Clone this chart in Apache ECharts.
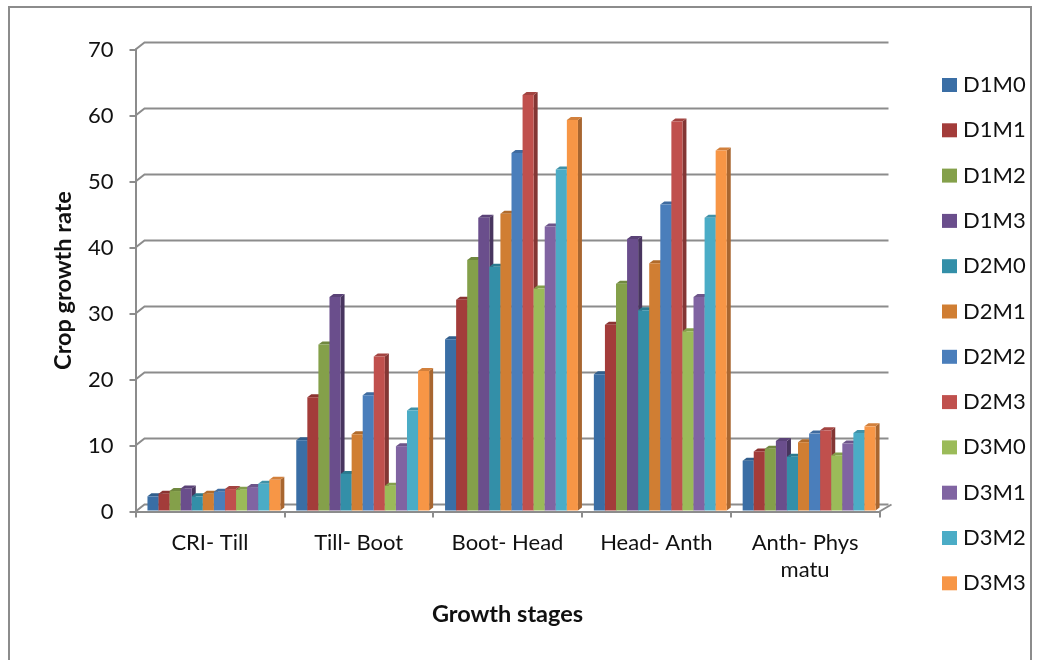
<!DOCTYPE html>
<html><head><meta charset="utf-8">
<style>html,body{margin:0;padding:0;background:#fff}#c{width:1044px;height:660px}</style>
<script src="https://cdn.jsdelivr.net/npm/echarts@6/dist/echarts.min.js"></script>
</head><body><div id="c"></div>
<script>
const categories = ['CRI- Till','Till- Boot','Boot- Head','Head- Anth','Anth- Phys\nmatu'];
const ticks = [0,10,20,30,40,50,60,70];
const D1M0 = [2.3,10.8,26.1,20.8,7.7];
const D1M1 = [2.7,17.3,32.1,28.3,9.1];
const D1M2 = [3.1,25.3,38.1,34.5,9.5];
const D1M3 = [3.5,32.5,44.5,41.3,10.7];
const D2M0 = [2.3,5.7,37.1,30.5,8.3];
const D2M1 = [2.7,11.7,45.1,37.6,10.5];
const D2M2 = [3,17.6,54.3,46.5,11.8];
const D2M3 = [3.4,23.5,63.1,59.1,12.3];
const D3M0 = [3.3,3.9,33.8,27.3,8.5];
const D3M1 = [3.7,9.9,43.2,32.5,10.3];
const D3M2 = [4.2,15.3,51.8,44.5,11.9];
const D3M3 = [4.8,21.3,59.3,54.7,12.9];
const names = ['D1M0','D1M1','D1M2','D1M3','D2M0','D2M1','D2M2','D2M3','D3M0','D3M1','D3M2','D3M3'];
const values = [D1M0,D1M1,D1M2,D1M3,D2M0,D2M1,D2M2,D2M3,D3M0,D3M1,D3M2,D3M3];
const colors = ['#3a6ea5','#a33c3a','#84a04a','#6a4e8c','#338fa8','#d07e33','#4a7ebb','#c0504d','#9bbb59','#8064a2','#4bacc6','#f79646'];
const font = 'Lato';
const textColor = '#111';
const wallGrey = '#8c8c8c';
const depthX = 9, depthY = 7, catFill = 0.893;

function shade(hex, f){
  const n = parseInt(hex.slice(1),16);
  const c = [n>>16,(n>>8)&255,n&255].map(v=>Math.round(v*f));
  return 'rgb('+c.join(',')+')';
}

const barSeries = names.map((name,si)=>({
  name, type:'custom', coordinateSystem:'cartesian2d', clip:false, z:5,
  itemStyle:{color:colors[si]},
  data: values[si].map((v,i)=>[i,v]),
  renderItem(params, api){
    const cat = api.value(0), v = api.value(1);
    const base = api.coord([cat,0]);
    const top = api.coord([cat,v]);
    const bandW = api.size([1,0])[0];
    const w = bandW*catFill/names.length;
    const x = base[0]-bandW*catFill/2 + w*si + 4;
    const by = base[1]-1;
    const dx = 4, dy = 3;
    const c = colors[si];
    return {type:'group', children:[
      {type:'polygon', shape:{points:[[x+w,top[1]],[x+w+dx,top[1]-dy],[x+w+dx,by-dy],[x+w,by]]}, style:{fill:shade(c,0.68)}},
      {type:'polygon', shape:{points:[[x,top[1]],[x+dx,top[1]-dy],[x+w+dx,top[1]-dy],[x+w,top[1]]]}, style:{fill:shade(c,0.85)}},
      {type:'rect', shape:{x:x,y:top[1],width:w,height:by-top[1]}, style:{fill:c}}
    ]};
  }
}));

const wallSeries = {
  type:'custom', coordinateSystem:'cartesian2d', clip:false, z:1, silent:true,
  data: ticks.map(t=>[0,t]),
  renderItem(params, api){
    const t = api.value(1);
    const y = api.coord([0,t])[1];
    const cs = params.coordSys;
    const xa = cs.x, xb = cs.x+cs.width;
    const line = {type:'polyline', shape:{points:[[xa,y],[xa+depthX,y-depthY],[xb+depthX,y-depthY]]}, style:{stroke:wallGrey,lineWidth:2,fill:null}};
    const out = [line];
    if(t===0) out.push({type:'line', shape:{x1:xb,y1:y,x2:xb+depthX+3,y2:y-depthY}, style:{stroke:wallGrey,lineWidth:2}});
    return {type:'group', children:out};
  }
};

const chart = echarts.init(document.getElementById('c'),null,{renderer:'canvas'});
chart.setOption({
  animation:false,
  backgroundColor:'#fff',
  graphic:[{type:'rect', z:0, shape:{x:9,y:7,width:1022,height:660}, style:{fill:'none',stroke:'#8c8c8c',lineWidth:2}}],
  grid:{left:135.5,top:49.5,width:744,height:462},
  legend:{
    data:names, orient:'vertical', left:942, top:74, padding:0, itemWidth:15, itemHeight:14, itemGap:23.3,
    icon:'rect', textStyle:{fontFamily:font,fontSize:22,lineHeight:22,color:textColor,padding:[0,0,0,1]}
  },
  xAxis:{
    type:'category', data:categories, name:'Growth stages', nameLocation:'middle', nameGap:91,
    nameTextStyle:{fontFamily:font,fontSize:23.5,fontWeight:'bold',color:textColor},
    axisLine:{show:true,onZero:false,lineStyle:{color:wallGrey,width:2}},
    axisTick:{show:true,alignWithLabel:false,length:6,lineStyle:{color:wallGrey,width:2}},
    axisLabel:{fontFamily:font,fontSize:22,color:textColor,margin:18,lineHeight:27,interval:0}
  },
  yAxis:{
    type:'value', min:0, max:70, interval:10, name:'Crop growth rate', nameLocation:'middle', nameGap:60,
    nameTextStyle:{fontFamily:font,fontSize:23.5,fontWeight:'bold',color:textColor},
    axisLine:{show:true,lineStyle:{color:wallGrey,width:2}},
    axisTick:{show:true,length:6,lineStyle:{color:wallGrey,width:2}},
    axisLabel:{fontFamily:font,fontSize:22,color:textColor,margin:22},
    splitLine:{show:false}
  },
  series:[wallSeries].concat(barSeries)
});
</script></body></html>
